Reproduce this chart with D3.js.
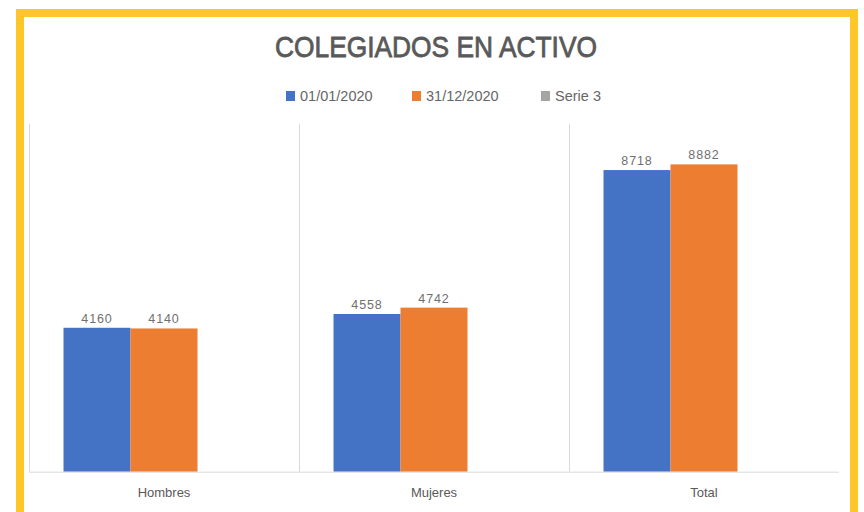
<!DOCTYPE html>
<html>
<head>
<meta charset="utf-8">
<script src="https://cdn.jsdelivr.net/npm/d3@7/dist/d3.min.js"></script>
<style>
  html, body { margin: 0; padding: 0; background: #ffffff; }
  svg { display: block; }
</style>
</head>
<body>
<script>
// ---- data ----
const categories = ["Hombres", "Mujeres", "Total"];
const seriesNames = ["01/01/2020", "31/12/2020", "Serie 3"];
const serie1 = [4160, 4558, 8718];
const serie2 = [4140, 4742, 8882];
const serie3 = [0, 0, 0];
const title = "COLEGIADOS EN ACTIVO";

const W = 864, H = 512;
const colors = ["#4472C4", "#ED7D31", "#A5A5A5"];
const textGray = "#595959";
const font = "'Liberation Sans', Arial, sans-serif";

const svg = d3.select("body").append("svg").attr("width", W).attr("height", H);
svg.append("rect").attr("width", W).attr("height", H).attr("fill", "#ffffff");

// yellow frame
svg.append("rect")
  .attr("x", 20).attr("y", 13).attr("width", 834).attr("height", 520)
  .attr("fill", "none").attr("stroke", "#FFC629").attr("stroke-width", 8);

// scales
const plotLeft = 29, plotRight = 839, plotTop = 125.7, plotBottom = 471.7;
const x0 = d3.scaleBand().domain(categories).range([plotLeft, plotRight]).padding(0);
const x1 = d3.scaleBand().domain(seriesNames).range([0, x0.bandwidth()])
  .paddingInner(0).paddingOuter(0.515);
const y = d3.scaleLinear().domain([0, 10000]).range([plotBottom, plotTop]);

// category separators (gridlines)
svg.append("g").selectAll("line").data(categories).join("line")
  .attr("x1", d => Math.round(x0(d)) + 0.5).attr("x2", d => Math.round(x0(d)) + 0.5)
  .attr("y1", plotTop - 2).attr("y2", plotBottom)
  .attr("stroke", "#d9d9d9").attr("stroke-width", 1);

const series = [serie1, serie2, serie3];
const rows = [];
series.forEach((vals, si) => vals.forEach((v, ci) => rows.push({s: seriesNames[si], si, c: categories[ci], v})));

svg.append("g").selectAll("rect").data(rows.filter(r => r.v > 0)).join("rect")
  .attr("x", d => x0(d.c) + x1(d.s))
  .attr("width", x1.bandwidth())
  .attr("y", d => y(d.v))
  .attr("height", d => y(0) - y(d.v))
  .attr("fill", d => colors[d.si]);

// baseline
svg.append("line")
  .attr("x1", plotLeft).attr("x2", plotRight)
  .attr("y1", plotBottom + 0.5).attr("y2", plotBottom + 0.5)
  .attr("stroke", "#d9d9d9").attr("stroke-width", 1);

// data labels
svg.append("g").selectAll("text").data(rows.filter(r => r.v > 0)).join("text")
  .attr("x", d => x0(d.c) + x1(d.s) + x1.bandwidth() / 2)
  .attr("y", d => y(d.v) - 5)
  .attr("text-anchor", "middle")
  .attr("font-family", font).attr("font-size", 12.5).attr("letter-spacing", 0.9)
  .attr("fill", "#6f6f6f")
  .text(d => d.v);

// category axis labels
svg.append("g").selectAll("text").data(categories).join("text")
  .attr("x", d => x0(d) + x0.bandwidth() / 2)
  .attr("y", 497)
  .attr("text-anchor", "middle")
  .attr("font-family", font).attr("font-size", 13)
  .attr("fill", textGray)
  .text(d => d);

// title
svg.append("text")
  .attr("x", 436).attr("y", 57)
  .attr("text-anchor", "middle")
  .attr("font-family", "'Liberation Sans Narrow', 'Liberation Sans', Arial, sans-serif")
  .attr("font-size", 30)
  .attr("textLength", 322).attr("lengthAdjust", "spacingAndGlyphs")
  .attr("fill", textGray)
  .attr("stroke", textGray).attr("stroke-width", 0.8)
  .text(title);

// legend
const legendItems = [
  {name: seriesNames[0], color: colors[0], x: 286},
  {name: seriesNames[1], color: colors[1], x: 412},
  {name: seriesNames[2], color: colors[2], x: 541}
];
const lg = svg.append("g").selectAll("g").data(legendItems).join("g")
  .attr("transform", d => `translate(${d.x},0)`);
lg.append("rect").attr("x", 0).attr("y", 91).attr("width", 9).attr("height", 10)
  .attr("fill", d => d.color);
lg.append("text").attr("x", 14).attr("y", 101)
  .attr("font-family", font).attr("font-size", 14.5)
  .attr("fill", "#666666")
  .text(d => d.name);
</script>
</body>
</html>
